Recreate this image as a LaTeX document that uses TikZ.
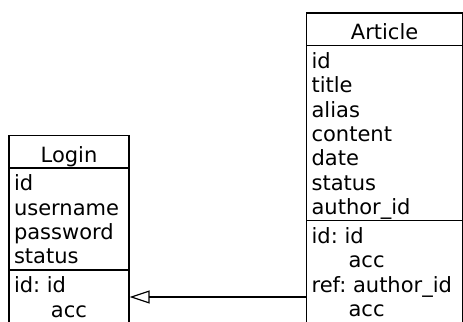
\documentclass[tikz,border=0pt]{standalone}
\usepackage{fontspec}
\setmainfont{DejaVu Sans}
\usetikzlibrary{shapes.multipart,arrows.meta}
\frenchspacing
\newcommand{\rows}[2]{\vtop{\hsize=#1\raggedright\lineskiplimit=-\maxdimen
  \noindent\rule{0pt}{11.1pt}#2\rule[-2.75pt]{0pt}{0pt}\par}}
\newcommand{\head}[2]{\makebox[#1]{\rule[-2.5pt]{0pt}{15.65pt}#2}}
\newcommand{\ind}{\hspace*{18.5pt}}
\begin{document}
\begin{tikzpicture}[x=1pt,y=1pt,
  entity/.style={draw,line width=0.6pt,rectangle split,rectangle split parts=3,
    anchor=north west,inner xsep=2.5pt,inner ysep=0pt,
    font=\fontsize{10.5pt}{12.2pt}\selectfont}]
\useasboundingbox (0,0) rectangle (231.5,161);
\node[entity] (login) at (4.2,93.55)
  {\head{55pt}{Login}
   \nodepart{two}\rows{55pt}{id\\username\\password\\status}
   \nodepart{three}\rows{55pt}{id: id\\\ind acc}};
\node[entity] (article) at (153,154.8)
  {\head{73pt}{Article}
   \nodepart{two}\rows{73pt}{id\\title\\alias\\content\\date\\status\\author\_id}
   \nodepart{three}\rows{73pt}{id: id\\\ind acc\\ref: author\_id\\\ind acc}};
\coordinate (link) at (0,12.5);
\draw[line width=0.6pt,-{Triangle[open,length=10pt,width=6.5pt]}] (article.west |- link) -- (login.east |- link);
\end{tikzpicture}
\end{document}
